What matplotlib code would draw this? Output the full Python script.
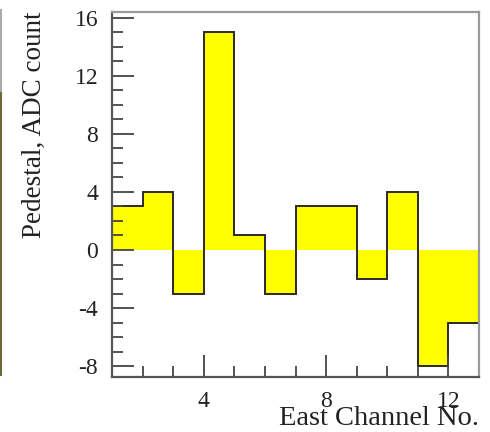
import matplotlib
matplotlib.use("Agg")
import matplotlib.pyplot as plt
from matplotlib.ticker import MultipleLocator
from matplotlib.lines import Line2D

# pedestal per east channel (ADC counts)
channels = [1, 2, 3, 4, 5, 6, 7, 8, 9, 10, 11, 12]
pedestal = [3, 4, -3, 15, 1, -3, 3, 3, -2, 4, -8, -5]
edges = channels + [channels[-1] + 1]

plt.rcParams["font.family"] = ["Liberation Serif", "DejaVu Serif"]
plt.rcParams["axes.unicode_minus"] = False

fig = plt.figure(figsize=(4.9, 4.32), dpi=100)
ax = fig.add_axes([0.2286, 0.1273, 0.749, 0.845])

ax.stairs(pedestal, edges, baseline=0, fill=True, color="#ffff00", lw=0)
ax.stairs(pedestal, edges, baseline=None, color="#2a2a2a", lw=1.4)

ax.set_xlim(1, 13)
ax.set_ylim(-8.75, 16.4)

ax.xaxis.set_major_locator(MultipleLocator(4))
ax.xaxis.set_minor_locator(MultipleLocator(1))
ax.yaxis.set_major_locator(MultipleLocator(4))
ax.yaxis.set_minor_locator(MultipleLocator(1))
ax.tick_params(which="both", direction="in", color="#444444", width=1.3,
               top=False, right=False, labelsize=17, labelcolor="#222222")
ax.tick_params(which="major", length=16)
ax.tick_params(which="minor", length=8)
ax.tick_params(axis="y", which="major", pad=10)
ax.tick_params(axis="x", which="major", pad=10)

for side in ("left", "bottom"):
    ax.spines[side].set_color("#555555")
    ax.spines[side].set_linewidth(1.6)
for side in ("right", "top"):
    ax.spines[side].set_color("#999999")
    ax.spines[side].set_linewidth(1.6)

ax.set_xlabel("East Channel No.", fontsize=20.5, ha="right", x=1.0,
              labelpad=-4, color="#222222")
ax.set_ylabel("Pedestal, ADC count", fontsize=19.5, ha="right", y=1.0,
              labelpad=20, color="#222222")

# edge of the neighbouring panel, cut off at the left border
fig.add_artist(Line2D([0.002, 0.002], [1 - 10 / 432, 1 - 93 / 432],
                      transform=fig.transFigure, color="#aaaaaa", lw=1.5))
fig.add_artist(Line2D([0.002, 0.002], [1 - 93 / 432, 1 - 375 / 432],
                      transform=fig.transFigure, color="#6b6b3a", lw=1.5))

fig.savefig("out.png", dpi=100)
